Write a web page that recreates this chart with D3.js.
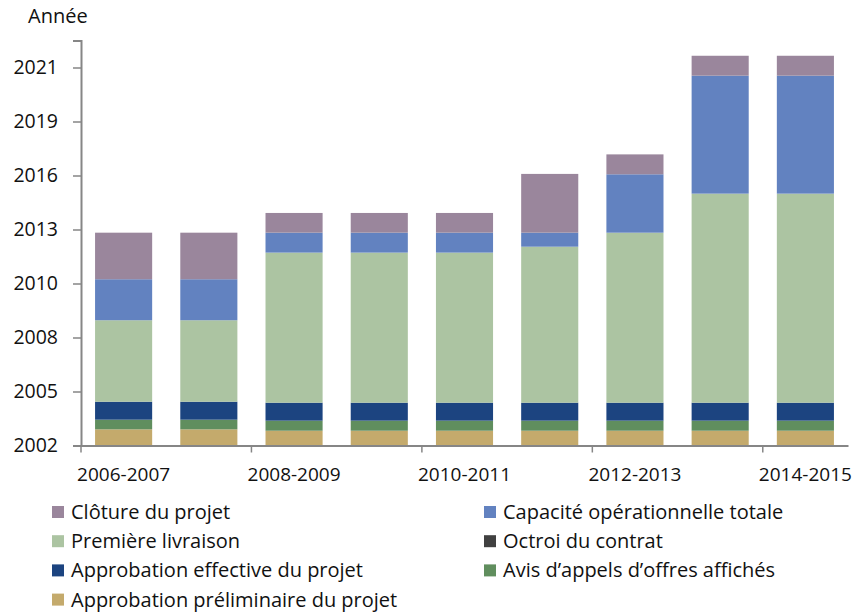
<!DOCTYPE html>
<html>
<head>
<meta charset="utf-8">
<script src="https://cdn.jsdelivr.net/npm/d3@7"></script>
<style>
  body { margin: 0; background: #fff; }
  text { font-family: "Open Sans", sans-serif; fill: #111; }
</style>
</head>
<body>
<script>
const w = 863
const h = 614

const categories = ['2006-2007', '2007-2008', '2008-2009', '2009-2010', '2010-2011',
  '2011-2012', '2012-2013', '2013-2014', '2014-2015']
const labelledCategories = ['2006-2007', '2008-2009', '2010-2011', '2012-2013', '2014-2015']

const seriesNames = ['Approbation préliminaire du projet', 'Avis d’appels d’offres affichés',
  'Approbation effective du projet', 'Octroi du contrat', 'Première livraison',
  'Capacité opérationnelle totale', 'Clôture du projet']
const colors = ['#c4aa6c', '#608e5e', '#1c4480', '#404040', '#acc4a2', '#6282c0', '#9a869c']

// milestone reached by each series (decimal year), one value per category
const approbationPreliminaire = [2003.52, 2003.52, 2003.45, 2003.45, 2003.45, 2003.45, 2003.45, 2003.45, 2003.45]
const avisAppelsOffres = [2004.01, 2004.01, 2003.96, 2003.96, 2003.96, 2003.96, 2003.96, 2003.96, 2003.96]
const approbationEffective = [2004.92, 2004.92, 2004.87, 2004.87, 2004.87, 2004.87, 2004.87, 2004.87, 2004.87]
const octroiContrat = [2004.92, 2004.92, 2004.87, 2004.87, 2004.87, 2004.87, 2004.87, 2004.87, 2004.87]
const premiereLivraison = [2009.05, 2009.05, 2012.48, 2012.48, 2012.48, 2012.78, 2013.49, 2015.47, 2015.47]
const capaciteTotale = [2011.13, 2011.13, 2013.49, 2013.49, 2013.49, 2013.49, 2016.45, 2021.45, 2021.45]
const clotureProjet = [2013.49, 2013.49, 2014.49, 2014.49, 2014.49, 2016.47, 2017.46, 2022.46, 2022.46]

const series = [approbationPreliminaire, avisAppelsOffres, approbationEffective, octroiContrat,
  premiereLivraison, capaciteTotale, clotureProjet]

// date axis: one tick every 1000 days
const yTickLabels = ['2002', '2005', '2008', '2010', '2013', '2016', '2019', '2021']
const axisStart = 2002.7
const tickStep = 1000 / 365.25

const plotLeft = 81, plotRight = 848, plotTop = 40.5, plotBottom = 445.5

const svg = d3.select('body').append('svg').attr('width', w).attr('height', h)

const yScale = d3.scaleLinear()
  .domain([axisStart, axisStart + 7.5 * tickStep])
  .range([plotBottom, plotTop])
const xScale = d3.scaleBand().domain(categories).range([plotLeft, plotRight])
  .paddingInner(0.33).paddingOuter(0.165)

// segments: each series runs from the previous milestone to its own
const segments = []
series.forEach((vals, i) => {
  vals.forEach((v, j) => {
    const start = i === 0 ? axisStart : series[i - 1][j]
    segments.push({ s: i, cat: categories[j], y0: start, y1: v })
  })
})

svg.append('g').selectAll('rect').data(segments).enter().append('rect')
  .attr('x', d => xScale(d.cat))
  .attr('width', xScale.bandwidth())
  .attr('y', d => yScale(d.y1))
  .attr('height', d => yScale(d.y0) - yScale(d.y1))
  .attr('fill', d => colors[d.s])

const yTicks = yTickLabels.map((l, i) => axisStart + i * tickStep)
const leftAxis = d3.axisLeft(yScale).tickValues(yTicks)
  .tickFormat((d, i) => yTickLabels[i]).tickSize(8).tickPadding(15)
const gy = svg.append('g').attr('transform', 'translate(' + plotLeft + ',0)').call(leftAxis)
gy.select('.domain').attr('stroke', '#868686').attr('stroke-width', 2)
gy.selectAll('.tick line').attr('stroke', '#868686').attr('stroke-width', 1.5)
gy.selectAll('text').style('font-size', '19.5px').attr('fill', '#111')

const bottomAxis = d3.axisBottom(xScale).tickValues(labelledCategories).tickSize(0).tickPadding(22)
const gx = svg.append('g').attr('transform', 'translate(0,' + plotBottom + ')').call(bottomAxis)
gx.select('.domain').attr('stroke', '#868686').attr('stroke-width', 2)
gx.selectAll('text').style('font-size', '19px').attr('fill', '#111')
gx.selectAll('.bound').data(d3.range(0, categories.length + 1, 2)).enter().append('line')
  .attr('x1', i => plotLeft + i * xScale.step()).attr('x2', i => plotLeft + i * xScale.step())
  .attr('y1', 0).attr('y2', 7)
  .attr('stroke', '#868686').attr('stroke-width', 1.5)

svg.append('text').text('Année').attr('x', 28).attr('y', 23).style('font-size', '20px')

// legend, two columns, last series first
const legendItems = d3.range(seriesNames.length).reverse()
const legend = svg.append('g').selectAll('g').data(legendItems).enter().append('g')
  .attr('transform', (s, k) => 'translate(' + (k % 2 ? 484 : 52) + ',' + (512 + Math.floor(k / 2) * 29.2) + ')')
legend.append('rect').attr('x', 0).attr('y', -6).attr('width', 12).attr('height', 12)
  .attr('fill', s => colors[s])
legend.append('text').attr('x', 19).attr('y', 0).attr('dy', '0.35em')
  .style('font-size', '20px').text(s => seriesNames[s])
</script>
</body>
</html>
